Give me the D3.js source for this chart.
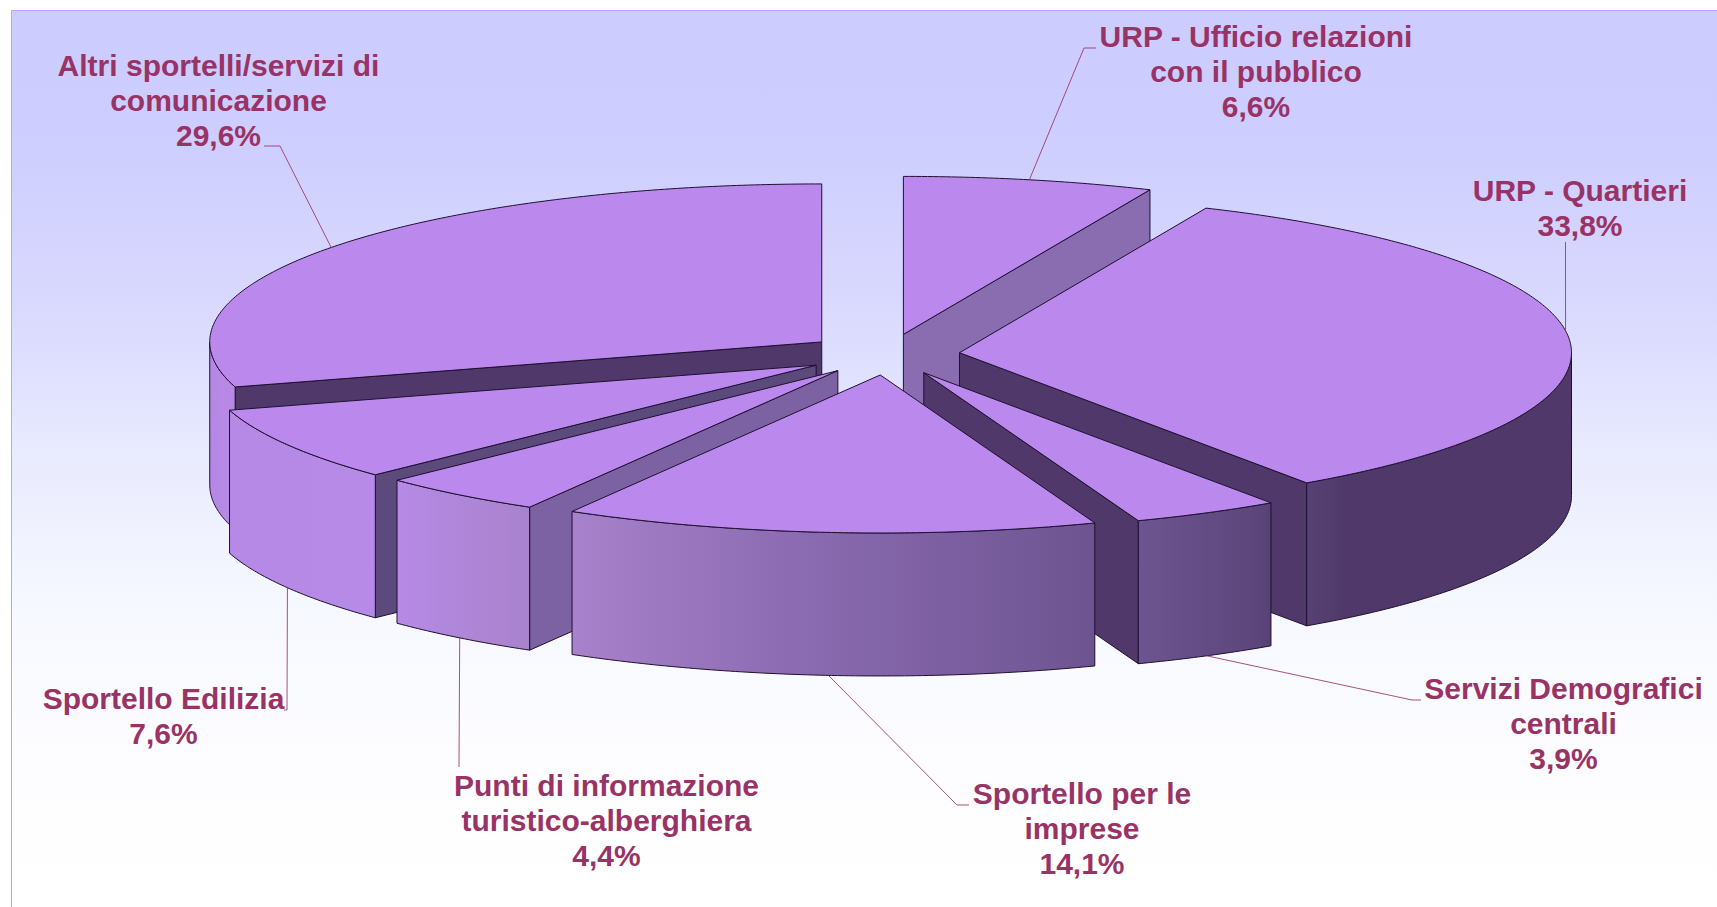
<!DOCTYPE html>
<html>
<head>
<meta charset="utf-8">
<style>
html,body{margin:0;padding:0;background:#fff;overflow:hidden}
svg{display:block}
text{font-family:"Liberation Sans",Arial,sans-serif;font-weight:bold;fill:#993366;text-anchor:middle}
</style>
<script src="https://cdn.jsdelivr.net/npm/d3@7/dist/d3.min.js"></script>
</head>
<body>
<svg id="chart" width="1717" height="907"></svg>
<script>
// ---- data (clockwise from 12 o'clock) ----
const categories = [
  ["URP - Ufficio relazioni", "con il pubblico"],
  ["URP - Quartieri"],
  ["Servizi Demografici", "centrali"],
  ["Sportello per le", "imprese"],
  ["Punti di informazione", "turistico-alberghiera"],
  ["Sportello Edilizia"],
  ["Altri sportelli/servizi di", "comunicazione"]
];
const values = [6.6, 33.8, 3.9, 14.1, 4.4, 7.6, 29.6];

// ---- layout (separate from the data) ----
const W = 1717, H = 907;
const cx = 887, cy = 354.5, rx = 612, ry = 158, depth = 143;
const explode = [0.13, 0.119, 0.13, 0.13, 0.13, 0.134, 0.133];
const labelX = [1256, 1580, 1563.5, 1082, 606.5, 163.5, 218.5];
const labelY = [46.5, 200.5, 699, 804, 796, 709, 76];
const lineStep = 35;
const anchorShift = [0, -2.6, 0, 0, 0, 0, 0];   // degrees, from the slice's mid angle
const leaderBends = [
  [[1084, 48], [1096, 48]],
  [[1565.5, 242]],
  [[1412, 700], [1421, 700]],
  [[957, 805], [969, 805]],
  [[459, 767]],
  [[287, 710], [284, 710]],
  [[280, 146], [264, 146]]
];
// painter's order, back to front
const drawOrder = [0, 6, 1, 5, 4, 2, 3];

const svg = d3.select("#chart");
const defs = svg.append("defs");

// ---- background ----
const bg = defs.append("linearGradient").attr("id", "bg")
  .attr("gradientUnits", "userSpaceOnUse").attr("x1", 0).attr("x2", 0).attr("y1", 10).attr("y2", 907);
[[0, "#ccccff"], [0.13, "#cdcdff"], [0.32, "#d8d8fe"], [0.49, "#e8eafe"], [0.66, "#f6f8ff"], [0.83, "#fdfdff"], [1, "#ffffff"]]
  .forEach(([o, c]) => bg.append("stop").attr("offset", o).attr("stop-color", c));
svg.append("rect").attr("width", W).attr("height", H).attr("fill", "#fff");
svg.append("rect").attr("x", 11).attr("y", 10).attr("width", W - 11).attr("height", H - 10).attr("fill", "url(#bg)");
svg.append("path").attr("d", `M11.5,${H}V10.5H${W}`).attr("fill", "none").attr("stroke", "#cc99ff").attr("stroke-width", 1);

// ---- scales ----
const x = d3.scaleLinear().domain([-1, 1]).range([cx - rx, cx + rx]);
const y = d3.scaleLinear().domain([-1, 1]).range([cy - ry, cy + ry]);
const pie = d3.pie().sort(null).value(d => d);
const arcs = pie(values);

// shading of the outer wall, by angle round the pie in degrees
const rimColor = d3.scaleLinear()
  .domain([90, 145.3, 145.5, 159, 185, 210, 226, 270])
  .range(["#50396a", "#50396a", "#5a4478", "#6c5490", "#8868ae", "#a882cc", "#b68ae6", "#b688e6"])
  .interpolate(d3.interpolateRgb).clamp(true);
// shading of the flat cut walls, by the angle of the cut
const cutColor = d3.scaleLinear()
  .domain([23.76, 60, 145, 160, 210, 226, 253])
  .range(["#8a6cb0", "#8a6cb0", "#50396a", "#50396a", "#7d62a4", "#5c4a7c", "#50396a"])
  .clamp(true);

const deg = r => r * 180 / Math.PI;
const line = d3.line();
const outline = "#1f1030";

function center(a) {
  const m = (a.startAngle + a.endAngle) / 2, e = explode[a.index];
  return [e * Math.sin(m), -e * Math.cos(m)];
}
function pt(a, t, drop = 0) {
  const c = center(a);
  return [x(c[0] + Math.sin(t)), y(c[1] - Math.cos(t)) + drop];
}
function apex(a, drop = 0) {
  const c = center(a);
  return [x(c[0]), y(c[1]) + drop];
}
function arcPts(a, t0, t1, drop = 0) {
  const n = Math.max(2, Math.ceil(Math.abs(t1 - t0) / 0.01));
  return d3.range(n + 1).map(i => pt(a, t0 + (t1 - t0) * i / n, drop));
}

const gSlices = svg.append("g");

drawOrder.forEach(i => {
  const a = arcs[i];
  const g = gSlices.append("g");

  // flat cut walls that face the viewer
  const drawCut = t => {
    const A = apex(a), B = pt(a, t);
    g.append("path")
      .attr("d", line([A, B, [B[0], B[1] + depth], [A[0], A[1] + depth]]) + "Z")
      .attr("fill", cutColor(deg(t))).attr("stroke", outline).attr("stroke-width", 1).attr("stroke-linejoin", "round");
  };
  if (a.startAngle > Math.PI) drawCut(a.startAngle);
  if (a.endAngle < Math.PI) drawCut(a.endAngle);

  // outer wall (front half only)
  const t0 = Math.max(a.startAngle, Math.PI / 2), t1 = Math.min(a.endAngle, 3 * Math.PI / 2);
  if (t1 > t0) {
    const top = arcPts(a, t0, t1);
    const bottom = arcPts(a, t1, t0, depth);
    const id = "rim" + i;
    const p0 = pt(a, t0), p1 = pt(a, t1);
    const gr = defs.append("linearGradient").attr("id", id).attr("gradientUnits", "userSpaceOnUse")
      .attr("x1", p0[0]).attr("x2", p1[0]).attr("y1", 0).attr("y2", 0);
    d3.range(13).forEach(k => {
      const f = k / 12, t = t0 + (t1 - t0) * f;
      const px = pt(a, t)[0];
      gr.append("stop").attr("offset", (px - p0[0]) / (p1[0] - p0[0])).attr("stop-color", rimColor(deg(t)));
    });
    g.append("path").attr("d", line(top.concat(bottom)) + "Z")
      .attr("fill", `url(#${id})`).attr("stroke", outline).attr("stroke-width", 1).attr("stroke-linejoin", "round");
  }

  // top face
  const topPts = [apex(a)].concat(arcPts(a, a.startAngle, a.endAngle));
  g.append("path").attr("d", line(topPts) + "Z")
    .attr("fill", "#bb89ee").attr("stroke", outline).attr("stroke-width", 1).attr("stroke-linejoin", "round");
});

// ---- leaders ----
arcs.forEach((a, i) => {
  const m = (a.startAngle + a.endAngle) / 2 + anchorShift[i] * Math.PI / 180;
  const front = Math.cos(m) < 0;
  const start = pt(a, m, front ? depth : 0);
  svg.append("path").attr("d", line([start].concat(leaderBends[i])))
    .attr("fill", "none").attr("stroke", "#993366").attr("stroke-width", 1).attr("stroke-opacity", 0.85);
});

// ---- labels ----
const fmt = v => v.toFixed(1).replace(".", ",") + "%";
arcs.forEach((a, i) => {
  const lines = categories[i].concat(fmt(values[i]));
  const t = svg.append("text").attr("font-size", 30);
  lines.forEach((s, k) => {
    t.append("tspan").attr("x", labelX[i]).attr("y", labelY[i] + k * lineStep).text(s);
  });
});
</script>
</body>
</html>
